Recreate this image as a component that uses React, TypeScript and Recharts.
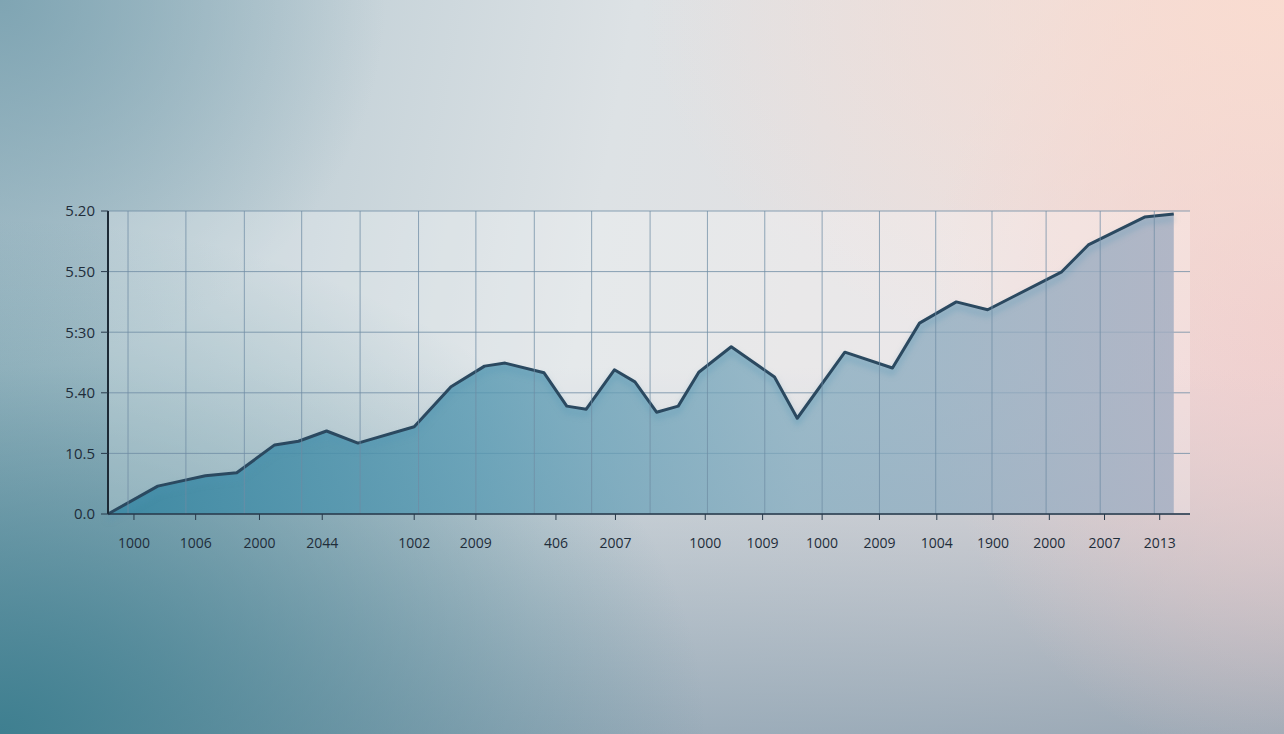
import React from "react";
import {
  AreaChart,
  Area,
  XAxis,
  YAxis,
  CartesianGrid,
  ReferenceLine,
} from "recharts";

// position along the time axis (0..100) and the plotted value
const timePoints = [
  0, 4.6, 6.4, 9.0, 11.9, 15.4, 17.6, 20.2, 23.1, 28.3, 31.7, 34.8, 36.7, 40.3,
  42.4, 44.2, 46.8, 48.7, 50.7, 52.7, 54.6, 57.6, 61.6, 63.7, 68.1, 72.5, 75.0,
  78.4, 81.3, 88.1, 90.6, 95.8, 98.5,
];
const seriesValues = [
  0, 0.46, 0.53, 0.63, 0.68, 1.14, 1.2, 1.37, 1.17, 1.44, 2.1, 2.44, 2.49, 2.33,
  1.78, 1.73, 2.38, 2.18, 1.68, 1.78, 2.34, 2.76, 2.26, 1.58, 2.67, 2.41, 3.15,
  3.5, 3.37, 3.99, 4.44, 4.9, 4.95,
];

const xTickPositions = [
  2.4, 8.1, 14.0, 19.8, 28.3, 34.0, 41.4, 46.9, 55.2, 60.5, 66.0, 71.3, 76.6,
  81.8, 87.0, 92.1, 97.2,
];
const xTickLabels = [
  "1000", "1006", "2000", "2044", "1002", "2009", "406", "2007", "1000",
  "1009", "1000", "2009", "1004", "1900", "2000", "2007", "2013",
];

const yTickValues = [0, 1, 2, 3, 4, 5];
const yTickLabels = ["0.0", "10.5", "5.40", "5:30", "5.50", "5.20"];

const verticalGridPositions = [
  1.85, 7.2, 12.6, 17.9, 23.3, 28.7, 34.0, 39.4, 44.7, 50.1, 55.4, 60.7, 66.0,
  71.3, 76.5, 81.7, 86.7, 91.7, 96.7,
];

const data = timePoints.map((t, i) => ({ t, v: seriesValues[i] }));

const FONT = "'Open Sans', 'Noto Sans', sans-serif";

export default function App() {
  return (
    <div
      style={{
        position: "absolute",
        left: 0,
        top: 0,
        width: 1284,
        height: 734,
        overflow: "hidden",
        background: [
          "radial-gradient(ellipse 50% 55% at 100% 0%, rgba(250,220,208,0.95) 0%, rgba(250,220,208,0) 100%)",
          "radial-gradient(ellipse 28% 60% at 100% 45%, rgba(240,206,206,0.9) 0%, rgba(240,206,206,0) 100%)",
          "radial-gradient(ellipse 55% 70% at 0% 100%, rgba(58,125,142,0.95) 0%, rgba(58,125,142,0) 100%)",
          "radial-gradient(ellipse 30% 50% at 0% 0%, rgba(120,160,175,0.85) 0%, rgba(120,160,175,0) 100%)",
          "linear-gradient(to bottom, rgba(130,158,176,0) 50%, rgba(125,150,168,0.7) 100%)",
          "linear-gradient(100deg, #a9c0ca 0%, #dde2e5 45%, #e7e0e1 75%, #ecd8d6 100%)",
        ].join(","),
      }}
    >
      <style>{`
        .main-area .recharts-area-curve { filter: drop-shadow(0px 5px 3px rgba(80,150,180,0.55)); }
      `}</style>
      <AreaChart
        width={1284}
        height={734}
        data={data}
        margin={{ top: 211, right: 94, bottom: 168, left: 48 }}
      >
        <defs>
          <linearGradient id="areaFill" x1="0" y1="0" x2="1" y2="0">
            <stop offset="0%" stopColor="#34849f" stopOpacity={0.88} />
            <stop offset="35%" stopColor="#5698b1" stopOpacity={0.8} />
            <stop offset="65%" stopColor="#80a9bd" stopOpacity={0.74} />
            <stop offset="100%" stopColor="#a2adc1" stopOpacity={0.82} />
          </linearGradient>
        </defs>
        <CartesianGrid
          vertical={false}
          stroke="#6f8ca4"
          strokeOpacity={0.8}
          fill="rgba(255,255,255,0.24)"
        />
        {verticalGridPositions.map((x) => (
          <ReferenceLine
            key={x}
            x={x}
            stroke="#6f8ca4"
            strokeOpacity={0.75}
            strokeWidth={1}
            ifOverflow="visible"
          />
        ))}
        <XAxis
          dataKey="t"
          type="number"
          domain={[0, 100]}
          ticks={xTickPositions}
          interval={0}
          tickFormatter={(v: number) => {
            const i = xTickPositions.indexOf(v);
            return i >= 0 ? xTickLabels[i] : "";
          }}
          height={52}
          tickSize={6}
          tickMargin={18}
          axisLine={{ stroke: "#27394a", strokeWidth: 1.5 }}
          tickLine={{ stroke: "#27394a", strokeWidth: 1 }}
          tick={{ fill: "#1f2d3a", fontSize: 14, fontFamily: FONT }}
        />
        <YAxis
          type="number"
          domain={[0, 5]}
          ticks={yTickValues}
          interval={0}
          tickFormatter={(v: number) => {
            const i = yTickValues.indexOf(v);
            return i >= 0 ? yTickLabels[i] : "";
          }}
          width={60}
          tickSize={7}
          tickMargin={6}
          axisLine={{ stroke: "#1c2a36", strokeWidth: 2 }}
          tickLine={{ stroke: "#27394a", strokeWidth: 1 }}
          tick={{ fill: "#1f2d3a", fontSize: 15, fontFamily: FONT }}
        />
        <Area
          className="main-area"
          type="linear"
          dataKey="v"
          stroke="#2b4960"
          strokeWidth={3}
          strokeLinejoin="round"
          fill="url(#areaFill)"
          fillOpacity={1}
          isAnimationActive={false}
          dot={false}
          activeDot={false}
        />
      </AreaChart>
    </div>
  );
}
